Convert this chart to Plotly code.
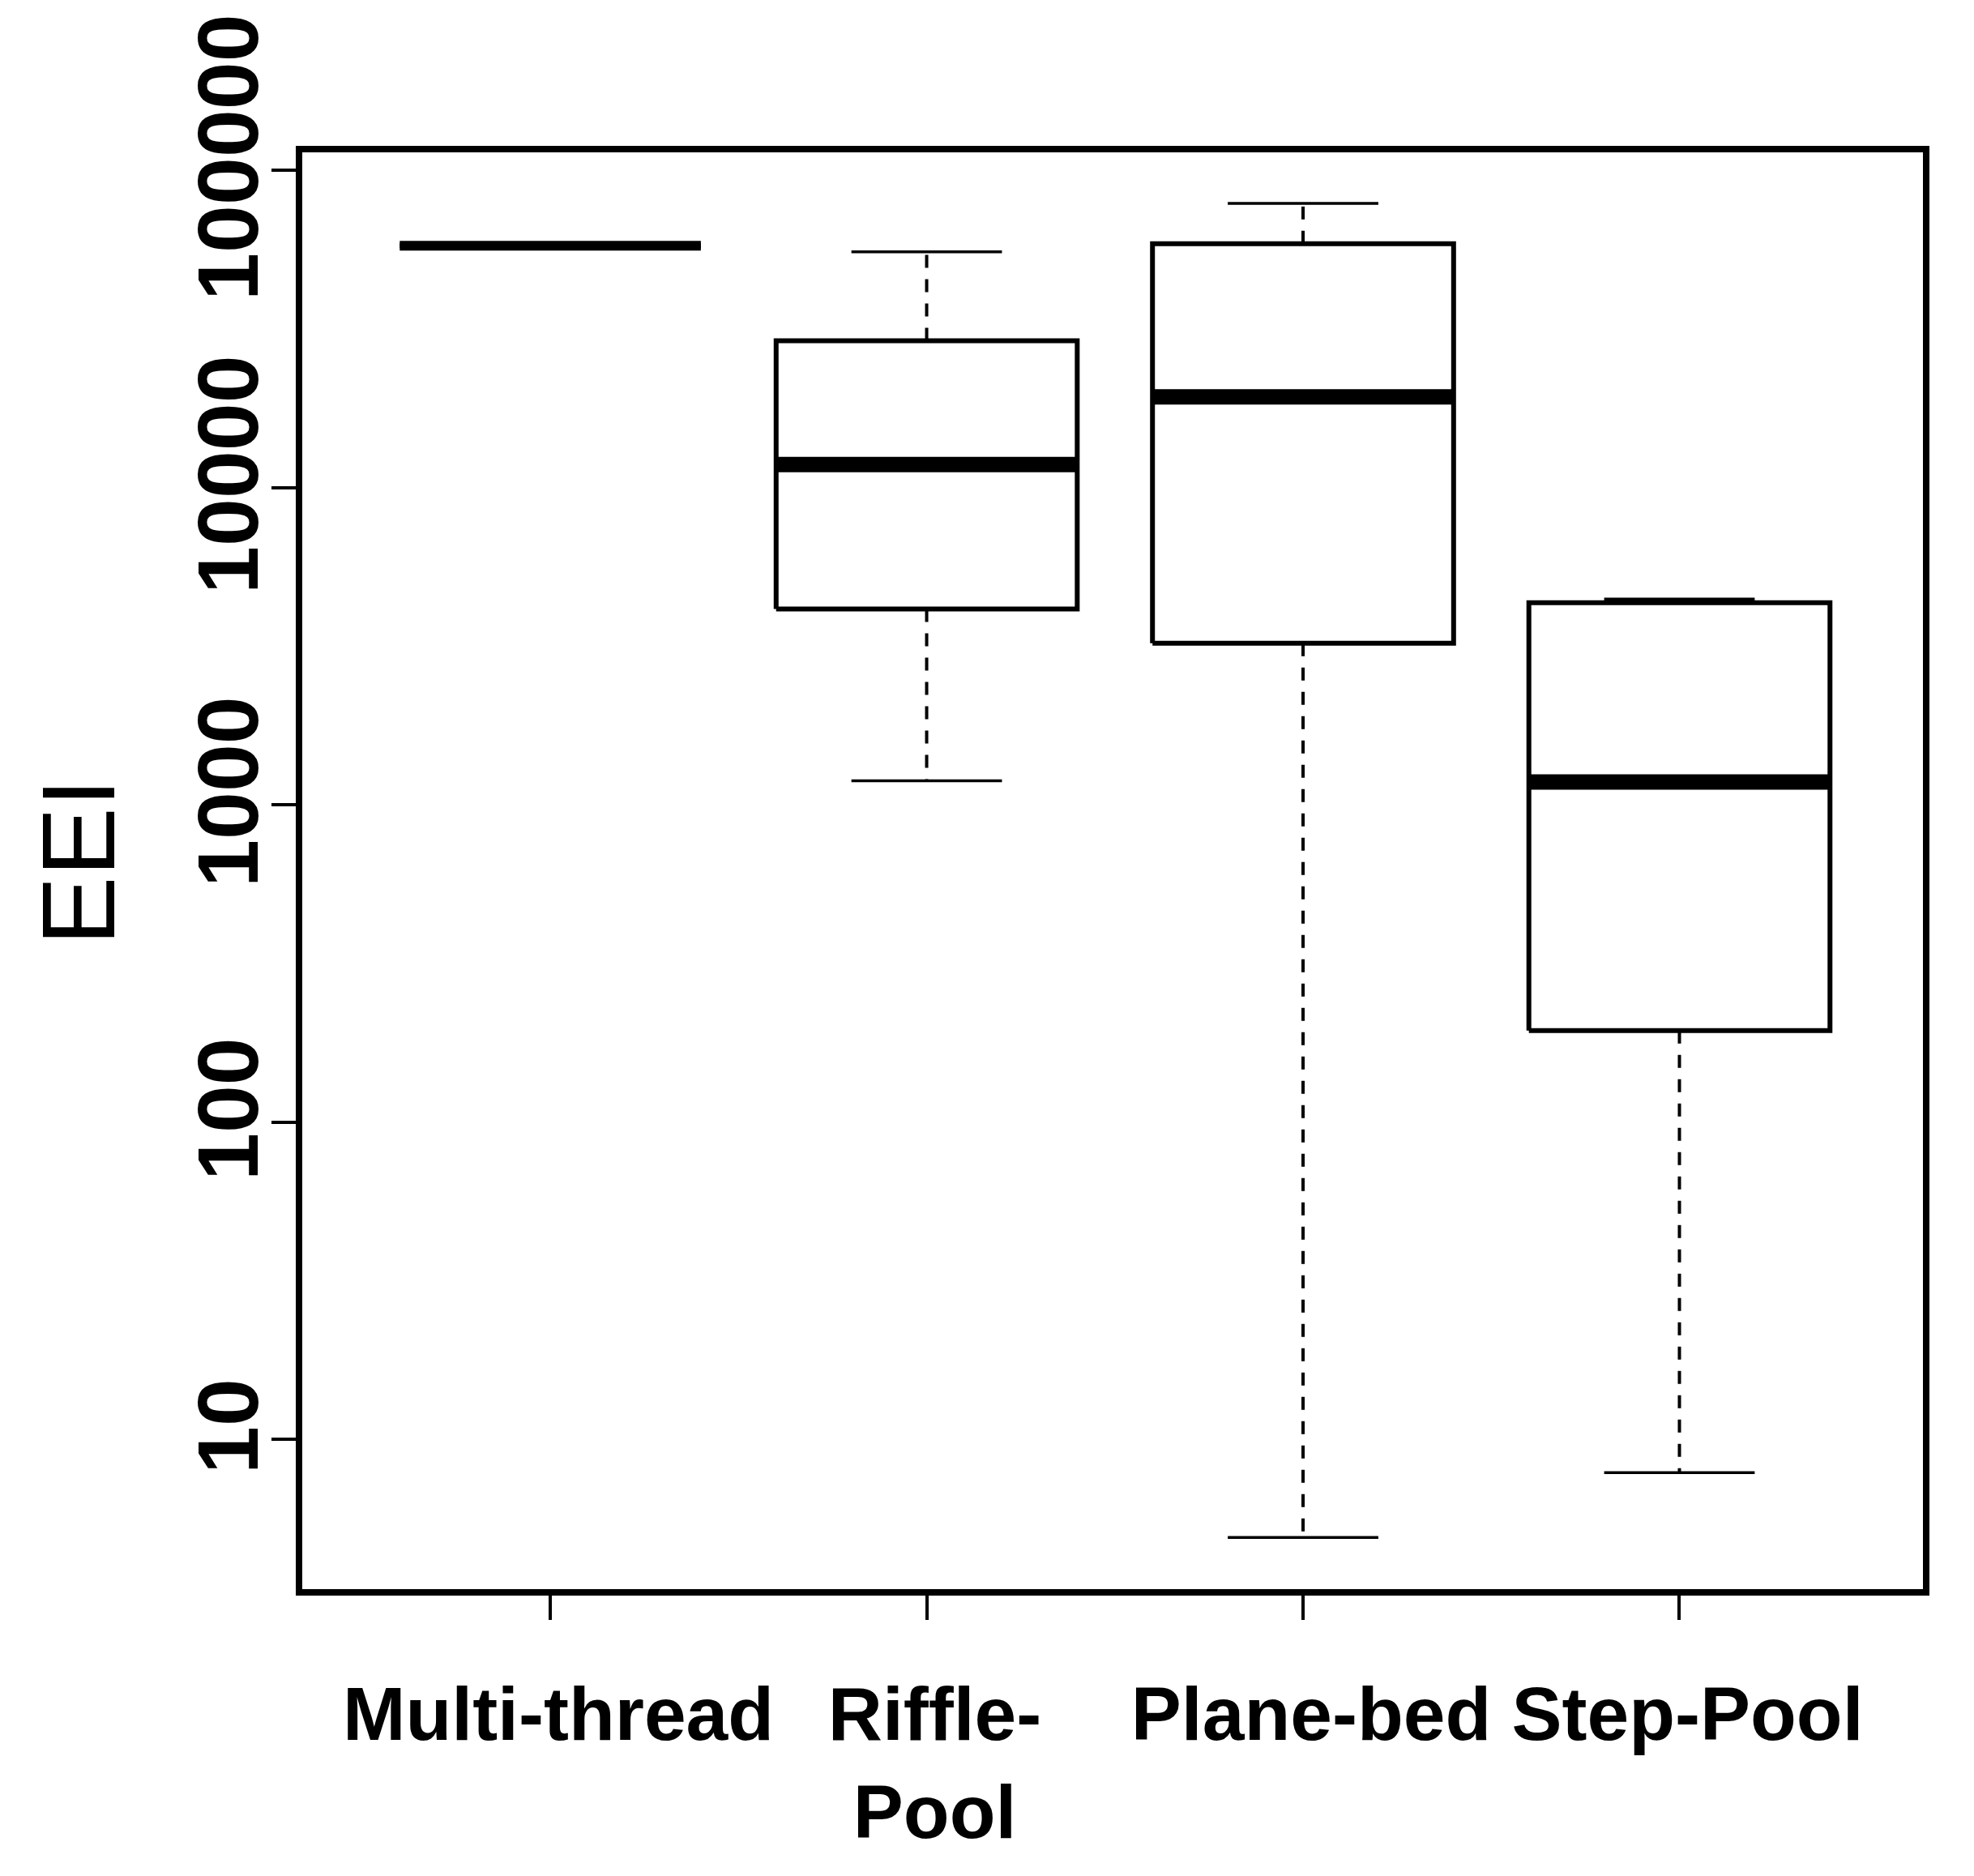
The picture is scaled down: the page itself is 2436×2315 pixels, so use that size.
import plotly.graph_objects as go

# 各河道形态类别及箱线图统计量
categories = ["Multi-thread", "Riffle-<br>Pool", "Plane-bed", "Step-Pool"]
lower_whisker = [57800, 1190, 4.9, 7.85]
q1 = [57800, 4140, 3230, 194]
median = [57800, 11800, 19300, 1179]
q3 = [57800, 29000, 58600, 4330]
upper_whisker = [57800, 55300, 78600, 4450]

# y 轴刻度
y_tickvals = [10, 100, 1000, 10000, 100000]
y_ticktext = ["10", "100", "1000", "10000", "100000"]

# 样式
font = "Liberation Sans, Arial, sans-serif"
half_box = 0.4
half_cap = 0.2
median_width = [12, 19, 19, 19]

fig = go.Figure()

for i, name in enumerate(categories):
    x = i + 1
    # 箱体
    fig.add_trace(go.Scatter(
        x=[x - half_box, x + half_box, x + half_box, x - half_box, x - half_box],
        y=[q1[i], q1[i], q3[i], q3[i], q1[i]],
        mode="lines", line=dict(color="black", width=6),
        hoverinfo="skip", showlegend=False
    ))
    # 须线（虚线）
    for a, b in [(q3[i], upper_whisker[i]), (q1[i], lower_whisker[i])]:
        fig.add_trace(go.Scatter(
            x=[x, x], y=[a, b], mode="lines",
            line=dict(color="black", width=4, dash="16px,14px"),
            hoverinfo="skip", showlegend=False
        ))
    # 须线端点
    for v in [upper_whisker[i], lower_whisker[i]]:
        fig.add_trace(go.Scatter(
            x=[x - half_cap, x + half_cap], y=[v, v], mode="lines",
            line=dict(color="black", width=3.5),
            hoverinfo="skip", showlegend=False
        ))
    # 中位数
    fig.add_trace(go.Scatter(
        x=[x - half_box, x + half_box], y=[median[i], median[i]], mode="lines",
        line=dict(color="black", width=median_width[i]),
        hoverinfo="skip", showlegend=False
    ))

# y 轴标题
fig.add_annotation(
    text="EEI", xref="paper", yref="paper", x=-0.138, y=0.506,
    xanchor="center", yanchor="middle", textangle=-90, showarrow=False,
    font=dict(family=font, size=128, color="black")
)

fig.update_layout(
    width=2436, height=2315,
    margin=dict(l=365, r=71, t=180, b=362),
    plot_bgcolor="white", paper_bgcolor="white",
    hovermode=False, showlegend=False,
    xaxis=dict(
        range=[0.341, 4.647], tickvals=[1, 2, 3, 4], ticktext=categories,
        ticks="outside", ticklen=30, tickwidth=3.5, tickcolor="black",
        showline=True, linewidth=8, linecolor="black", mirror=True,
        showgrid=False, zeroline=False, tickangle=0, automargin=False,
        ticklabelstandoff=36, ticklabelshift=10,
        tickfont=dict(family=font, size=93, color="black", weight="bold")
    ),
    yaxis=dict(
        type="log", range=[0.5275, 5.0562],
        tickvals=y_tickvals, ticktext=y_ticktext,
        ticks="outside", ticklen=30, tickwidth=3.5, tickcolor="black",
        showline=True, linewidth=8, linecolor="black", mirror=True,
        showgrid=False, zeroline=False, tickangle=-90, automargin=False,
        ticklabelstandoff=-25,
        tickfont=dict(family=font, size=106, color="black", weight="bold")
    )
)

fig.write_html("out.html")
